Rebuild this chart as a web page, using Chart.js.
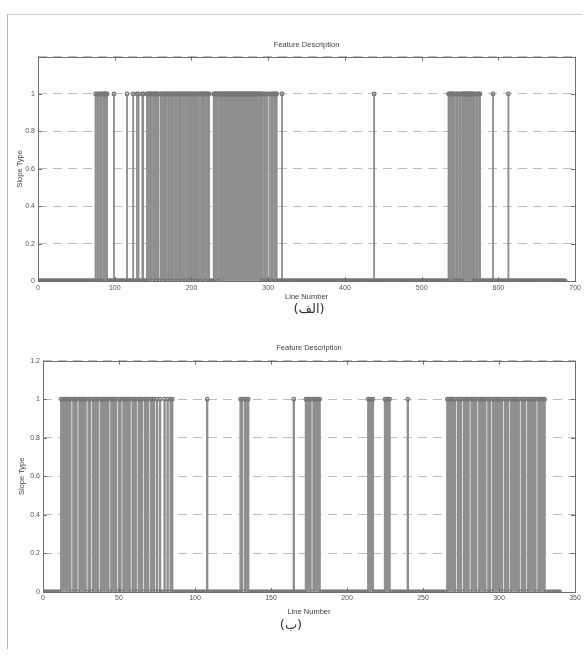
<!DOCTYPE html>
<html>
<head>
<meta charset="utf-8">
<script src="https://cdn.jsdelivr.net/npm/chart.js@4/dist/chart.umd.min.js"></script>
<style>
  html, body { margin: 0; padding: 0; background: #fdfdfd; }
  body { width: 584px; height: 656px; position: relative; overflow: hidden; }
  .frame { position: absolute; left: 7px; top: 14px; width: 574px; height: 634px; border-left: 1px solid #b5b5b5; border-top: 1px solid #d0d0d0; }
  canvas { position: absolute; left: 0; }
  #c1 { top: 30px; }
  #c2 { top: 330px; }
  .cap { position: absolute; font-family: "DejaVu Sans", sans-serif; font-size: 13px; color: #333; direction: rtl; transform: translateX(-50%); }
</style>
</head>
<body>
<div class="frame"></div>
<canvas id="c1" width="584" height="276"></canvas>
<canvas id="c2" width="584" height="290"></canvas>
<div class="cap" style="left:309px; top:301px;">(الف)</div>
<div class="cap" style="left:291px; top:617px;">(ب)</div>
<script>
// ---------- data ----------
const chartTitle = "Feature Description";
const xAxisLabel = "Line Number";
const yAxisLabel = "Slope Type";

// Plot (الف): number of lines and runs [first, last] of line numbers whose slope type is 1
const countTop = 687;
const onesTop = [
  [75,75],[77,77],[79,79],[81,81],[83,83],[85,90],[99,99],[116,116],[124,124],
  [129,129],[131,131],[136,137],[142,144],[146,148],[150,153],[155,157],[160,162],
  [164,168],[170,172],[174,177],[179,181],[183,187],[189,191],[193,196],[198,200],
  [202,205],[207,208],[210,211],[213,217],[219,223],[229,234],[236,291],[293,293],
  [295,295],[297,297],[299,299],[302,302],[304,304],[306,306],[308,311],[318,318],
  [438,438],[535,541],[543,543],[545,545],[547,547],[549,549],[551,551],[553,567],
  [569,569],[571,571],[573,573],[575,576],[593,593],[613,613]
];
const xTicksTop = [0, 100, 200, 300, 400, 500, 600, 700];

// Plot (ب)
const countBottom = 340;
const onesBottom = [
  [12,18],[20,22],[24,28],[30,31],[33,36],[38,43],[45,48],[50,51],[53,57],[59,61],
  [63,65],[67,69],[71,73],[75,75],[77,77],[80,80],[82,82],[84,85],[108,108],
  [130,131],[133,135],[165,165],[173,176],[178,182],[214,217],[225,228],[240,240],
  [266,271],[273,275],[277,280],[282,285],[287,291],[293,294],[296,302],[304,306],
  [308,313],[315,317],[319,324],[326,330]
];
const xTicksBottom = [0, 50, 100, 150, 200, 250, 300, 350];
const yTicks = [0, 0.2, 0.4, 0.6, 0.8, 1, 1.2];

// ---------- helpers ----------
function buildSeries(count, runs) {
  const ys = new Array(count).fill(0);
  runs.forEach(([a, b]) => { for (let i = a; i <= b; i++) ys[i - 1] = 1; });
  return ys.map((y, i) => ({ x: i + 1, y }));
}

const FONT = "'Liberation Sans', Arial, sans-serif";
const stemColor = '#8f8f8f';
const markColor = '#767676';

const matlabBox = {
  id: 'matlabBox',
  afterDraw(chart) {
    const { ctx, chartArea: a, scales: { x, y } } = chart;
    ctx.save();
    ctx.strokeStyle = '#6e6e6e';
    ctx.lineWidth = 1;
    ctx.strokeRect(Math.round(a.left) + 0.5, Math.round(a.top) + 0.5, Math.round(a.width), Math.round(a.height));
    ctx.beginPath();
    x.ticks.forEach(t => {
      const px = Math.round(x.getPixelForValue(t.value)) + 0.5;
      ctx.moveTo(px, a.bottom); ctx.lineTo(px, a.bottom - 4);
      ctx.moveTo(px, a.top); ctx.lineTo(px, a.top + 4);
    });
    y.ticks.forEach(t => {
      const py = Math.round(y.getPixelForValue(t.value)) + 0.5;
      ctx.moveTo(a.left, py); ctx.lineTo(a.left + 4, py);
      ctx.moveTo(a.right, py); ctx.lineTo(a.right - 4, py);
    });
    ctx.stroke();
    ctx.restore();
  }
};

function makeChart(id, count, runs, xTicks, cfg) {
  const pts = buildSeries(count, runs);
  return new Chart(document.getElementById(id), {
    type: 'bar',
    data: {
      datasets: [
        { type: 'bar', data: pts, backgroundColor: stemColor, borderWidth: 0, barThickness: cfg.stemW, grouped: false, order: 2 },
        { type: 'scatter', data: pts, pointRadius: 1.8, pointBorderWidth: 1.2, pointBorderColor: markColor, pointBackgroundColor: 'rgba(0,0,0,0)', order: 1 }
      ]
    },
    options: {
      responsive: false,
      animation: false,
      events: [],
      layout: { padding: { left: 0, right: cfg.padRight, top: 0, bottom: 0 } },
      plugins: {
        legend: { display: false },
        tooltip: { enabled: false },
        title: {
          display: true, text: chartTitle, fullSize: false, color: '#444',
          font: { family: FONT, size: 7.5, weight: 'normal' },
          padding: { top: cfg.titleTop, bottom: cfg.titleBottom }
        }
      },
      scales: {
        x: {
          type: 'linear', min: xTicks[0], max: xTicks[xTicks.length - 1], offset: false,
          afterBuildTicks: s => { s.ticks = xTicks.map(v => ({ value: v })); },
          afterFit: s => { s.height = cfg.xH; },
          grid: { display: false, drawTicks: false },
          border: { display: false },
          ticks: { color: '#555', font: { family: FONT, size: 7 }, padding: cfg.xTickPad, maxRotation: 0, autoSkip: false },
          title: { display: true, text: xAxisLabel, color: '#444', font: { family: FONT, size: 7.5 }, padding: { top: 0, bottom: cfg.xTitlePad } }
        },
        y: {
          type: 'linear', min: 0, max: 1.2,
          afterBuildTicks: s => { s.ticks = yTicks.map(v => ({ value: v })); },
          afterFit: s => { s.width = cfg.yW; },
          grid: { display: true, drawTicks: false, color: '#bdbdbd', lineWidth: 1 },
          border: { display: false, dash: [9, 6] },
          ticks: {
            color: '#555', font: { family: FONT, size: 7 }, padding: 3,
            callback: v => (cfg.hideTop && v === 1.2) ? '' : String(+v.toFixed(1))
          },
          title: { display: true, text: yAxisLabel, color: '#444', font: { family: FONT, size: 7.5 }, padding: { top: cfg.yTitlePad, bottom: 0 } }
        }
      }
    },
    plugins: [matlabBox]
  });
}

makeChart('c1', countTop, onesTop, xTicksTop, {
  padRight: 8, titleTop: 10.8, titleBottom: 6.8, xH: 25, xTickPad: 3, xTitlePad: 4.8,
  yW: 38, yTitlePad: 15.8, hideTop: true, stemW: 1.2
});
makeChart('c2', countBottom, onesBottom, xTicksBottom, {
  padRight: 9, titleTop: 13.8, titleBottom: 7.8, xH: 28, xTickPad: 2, xTitlePad: 3.8,
  yW: 43, yTitlePad: 17.8, hideTop: false, stemW: 1.7
});
</script>
</body>
</html>
